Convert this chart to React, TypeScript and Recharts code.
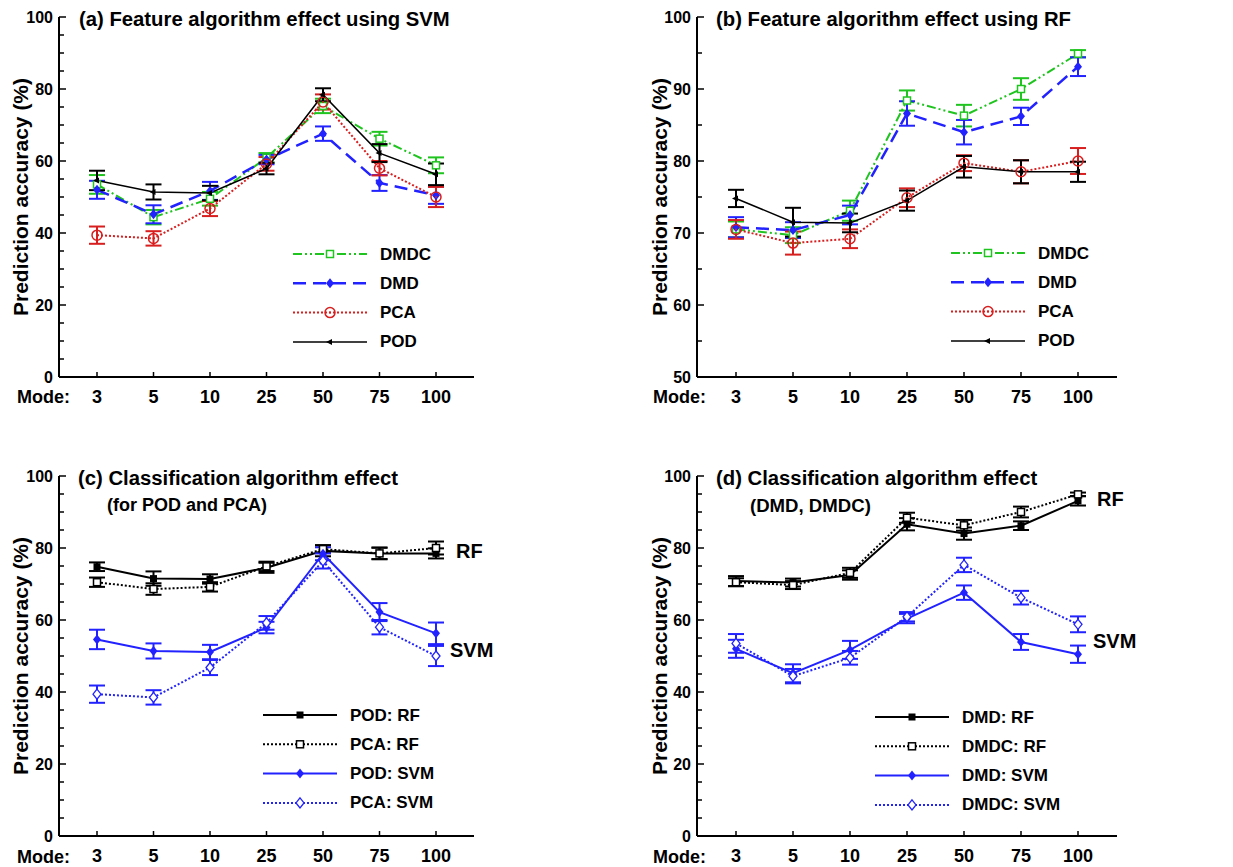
import React from 'react';
import { LineChart, Line, XAxis, YAxis, ErrorBar, Legend } from 'recharts';

const FONT = "'Liberation Sans', Arial, Helvetica, sans-serif";

const modes = ['3', '5', '10', '25', '50', '75', '100'];

// SVM accuracies (%)
const podSvm = [54.6, 51.4, 51.1, 57.9, 78.4, 62.2, 56.3];
const podSvmErr = [2.7, 2.1, 2.0, 1.6, 1.8, 2.5, 3.0];
const pcaSvm = [39.4, 38.5, 46.8, 59.2, 76.4, 58.0, 50.0];
const pcaSvmErr = [2.4, 2.0, 2.1, 1.9, 2.1, 2.0, 2.8];
const dmdSvm = [52.0, 45.2, 51.7, 60.4, 67.6, 53.9, 50.5];
const dmdSvmErr = [2.5, 2.5, 2.5, 1.3, 2.0, 2.2, 2.4];
const dmdcSvm = [53.5, 44.4, 49.5, 60.9, 75.3, 66.2, 58.8];
const dmdcSvmErr = [2.6, 2.0, 1.9, 1.3, 2.0, 1.9, 2.2];

// RF accuracies (%)
const podRf = [74.8, 71.5, 71.4, 74.5, 79.2, 78.5, 78.5];
const podRfErr = [1.2, 2.0, 1.3, 1.4, 1.5, 1.6, 1.4];
const pcaRf = [70.5, 68.6, 69.2, 74.9, 79.7, 78.5, 80.0];
const pcaRfErr = [1.3, 1.6, 1.3, 1.3, 1.1, 1.6, 1.8];
const dmdRf = [70.8, 70.4, 72.5, 86.6, 84.0, 86.2, 93.1];
const dmdRfErr = [1.4, 1.1, 1.3, 1.7, 1.7, 1.2, 1.3];
const dmdcRf = [70.5, 69.7, 73.1, 88.4, 86.3, 90.0, 94.9];
const dmdcRfErr = [1.1, 1.1, 1.4, 1.4, 1.5, 1.5, 0.5];

// axis ticks
const ticksFull = [0, 5, 10, 15, 20, 25, 30, 35, 40, 45, 50, 55, 60, 65, 70, 75, 80, 85, 90, 95, 100];
const majorFull = [0, 20, 40, 60, 80, 100];
const ticksRf = [50, 55, 60, 65, 70, 75, 80, 85, 90, 95, 100];
const majorRf = [50, 60, 70, 80, 90, 100];

const GREEN = '#1fc41f';
const BLUE = '#2222ff';
const RED = '#d81e1e';
const BLACK = '#000000';

type Series = {
  key: string;
  name: string;
  values: number[];
  errors: number[];
  color: string;
  dash?: string;
  width: number;
  marker: string;
};

function Marker({ kind, x, y, color }: { kind: string; x: number; y: number; color: string }) {
  switch (kind) {
    case 'sqOpen':
      return <rect x={x - 3.5} y={y - 3.5} width={7} height={7} fill="#fff" stroke={color} strokeWidth={1.5} />;
    case 'sq':
      return <rect x={x - 3.5} y={y - 3.5} width={7} height={7} fill={color} />;
    case 'diamond':
      return <polygon points={`${x},${y - 5} ${x + 4},${y} ${x},${y + 5} ${x - 4},${y}`} fill={color} />;
    case 'diamondOpen':
      return (
        <polygon
          points={`${x},${y - 5} ${x + 4},${y} ${x},${y + 5} ${x - 4},${y}`}
          fill="#fff"
          stroke={color}
          strokeWidth={1.3}
        />
      );
    case 'circleOpen':
      return (
        <g>
          <circle cx={x} cy={y} r={5} fill="none" stroke={color} strokeWidth={1.5} />
          <circle cx={x} cy={y} r={1} fill={color} />
        </g>
      );
    case 'triLeft':
      return <polygon points={`${x - 4},${y} ${x + 2},${y - 3} ${x + 2},${y + 3}`} fill={color} />;
    default:
      return null;
  }
}

const svmFeatureSeries: Series[] = [
  { key: 'dmdc', name: 'DMDC', values: dmdcSvm, errors: dmdcSvmErr, color: GREEN, dash: '9 3 2 3 2 3', width: 2, marker: 'sqOpen' },
  { key: 'dmd', name: 'DMD', values: dmdSvm, errors: dmdSvmErr, color: BLUE, dash: '13 7', width: 2.5, marker: 'diamond' },
  { key: 'pca', name: 'PCA', values: pcaSvm, errors: pcaSvmErr, color: RED, dash: '2 2', width: 2, marker: 'circleOpen' },
  { key: 'pod', name: 'POD', values: podSvm, errors: podSvmErr, color: BLACK, width: 1.5, marker: 'triLeft' },
];

const rfFeatureSeries: Series[] = [
  { key: 'dmdc', name: 'DMDC', values: dmdcRf, errors: dmdcRfErr, color: GREEN, dash: '9 3 2 3 2 3', width: 2, marker: 'sqOpen' },
  { key: 'dmd', name: 'DMD', values: dmdRf, errors: dmdRfErr, color: BLUE, dash: '13 7', width: 2.5, marker: 'diamond' },
  { key: 'pca', name: 'PCA', values: pcaRf, errors: pcaRfErr, color: RED, dash: '2 2', width: 2, marker: 'circleOpen' },
  { key: 'pod', name: 'POD', values: podRf, errors: podRfErr, color: BLACK, width: 1.5, marker: 'triLeft' },
];

const podPcaSeries: Series[] = [
  { key: 'podRf', name: 'POD: RF', values: podRf, errors: podRfErr, color: BLACK, width: 2, marker: 'sq' },
  { key: 'pcaRf', name: 'PCA: RF', values: pcaRf, errors: pcaRfErr, color: BLACK, dash: '2 2', width: 2, marker: 'sqOpen' },
  { key: 'podSvm', name: 'POD: SVM', values: podSvm, errors: podSvmErr, color: BLUE, width: 2, marker: 'diamond' },
  { key: 'pcaSvm', name: 'PCA: SVM', values: pcaSvm, errors: pcaSvmErr, color: BLUE, dash: '2 2', width: 2, marker: 'diamondOpen' },
];

const dmdSeries: Series[] = [
  { key: 'dmdRf', name: 'DMD: RF', values: dmdRf, errors: dmdRfErr, color: BLACK, width: 2, marker: 'sq' },
  { key: 'dmdcRf', name: 'DMDC: RF', values: dmdcRf, errors: dmdcRfErr, color: BLACK, dash: '2 2', width: 2, marker: 'sqOpen' },
  { key: 'dmdSvm', name: 'DMD: SVM', values: dmdSvm, errors: dmdSvmErr, color: BLUE, width: 2, marker: 'diamond' },
  { key: 'dmdcSvm', name: 'DMDC: SVM', values: dmdcSvm, errors: dmdcSvmErr, color: BLUE, dash: '2 2', width: 2, marker: 'diamondOpen' },
];

function buildData(series: Series[]) {
  return modes.map((m, i) => {
    const row: Record<string, any> = { mode: m };
    series.forEach((s) => {
      row[s.key] = s.values[i];
      row[s.key + 'Err'] = s.errors[i];
    });
    return row;
  });
}

function makeYTick(major: number[]) {
  return (props: any) => {
    const { x, y, payload } = props;
    const v = payload.value;
    const isMajor = major.includes(v);
    return (
      <g>
        <line x1={x} x2={x + (isMajor ? 7 : 5)} y1={y} y2={y} stroke="#000" strokeWidth={1.5} />
        {isMajor && (
          <text
            x={x - 6}
            y={y}
            textAnchor="end"
            dominantBaseline="central"
            fontSize={16}
            fontWeight="bold"
            fontFamily={FONT}
            fill="#000"
          >
            {v}
          </text>
        )}
      </g>
    );
  };
}

const XTick = (props: any) => {
  const { x, y, payload } = props;
  return (
    <g>
      <line x1={x} x2={x} y1={y} y2={y - 5} stroke="#000" strokeWidth={1.5} />
      <text
        x={x}
        y={y + 20}
        textAnchor="middle"
        dominantBaseline="central"
        fontSize={18}
        fontWeight="bold"
        fontFamily={FONT}
        fill="#000"
      >
        {payload.value}
      </text>
    </g>
  );
};

type PanelProps = {
  left: number;
  top: number;
  width: number;
  height: number;
  yAxisWidth: number;
  plotWidth: number;
  pad: number;
  domain: [number, number];
  ticks: number[];
  major: number[];
  series: Series[];
  legendLeft: number;
  legendTop: number;
};

function Panel(p: PanelProps) {
  const data = buildData(p.series);
  const marginTop = 17;
  const xAxisHeight = 30;
  const bottom = p.height - marginTop - 360 - xAxisHeight;
  const right = p.width - p.yAxisWidth - p.plotWidth;
  const legendContent = () => (
    <svg width={220} height={120} style={{ display: 'block', overflow: 'visible' }}>
      {p.series.map((s, i) => {
        const y = 12 + i * 29.3;
        return (
          <g key={s.key}>
            <line x1={0} x2={74} y1={y} y2={y} stroke={s.color} strokeWidth={s.width} strokeDasharray={s.dash} />
            <Marker kind={s.marker} x={37} y={y} color={s.color} />
            <text
              x={87}
              y={y}
              dominantBaseline="central"
              fontSize={17}
              fontWeight="bold"
              fontFamily={FONT}
              fill="#000"
            >
              {s.name}
            </text>
          </g>
        );
      })}
    </svg>
  );
  return (
    <div style={{ position: 'absolute', left: p.left, top: p.top, width: p.width, height: p.height }}>
      <LineChart
        width={p.width}
        height={p.height}
        data={data}
        margin={{ top: marginTop, right, bottom, left: 0 }}
      >
        <XAxis
          dataKey="mode"
          type="category"
          padding={{ left: p.pad, right: p.pad }}
          axisLine={{ stroke: '#000', strokeWidth: 2 }}
          tickLine={false}
          tickSize={0}
          tickMargin={0}
          interval={0}
          height={xAxisHeight}
          tick={XTick}
        />
        <YAxis
          type="number"
          domain={p.domain}
          ticks={p.ticks}
          interval={0}
          width={p.yAxisWidth}
          axisLine={{ stroke: '#000', strokeWidth: 2 }}
          tickLine={false}
          tickSize={0}
          tickMargin={0}
          allowDataOverflow
          tick={makeYTick(p.major)}
        />
        <Legend
          layout="vertical"
          align="center"
          verticalAlign="middle"
          content={legendContent}
          wrapperStyle={{ left: p.legendLeft, top: p.legendTop, width: 220, height: 120 }}
        />
        {p.series.map((s) => (
          <Line
            key={s.key}
            type="linear"
            dataKey={s.key}
            name={s.name}
            stroke={s.color}
            strokeWidth={s.width}
            strokeDasharray={s.dash}
            isAnimationActive={false}
            activeDot={false}
            dot={(d: any) => <Marker key={`${s.key}-${d.index}`} kind={s.marker} x={d.cx} y={d.cy} color={s.color} />}
          >
            <ErrorBar dataKey={s.key + 'Err'} direction="y" width={8} strokeWidth={2} stroke={s.color} />
          </Line>
        ))}
      </LineChart>
    </div>
  );
}

const textStyle = { fontFamily: FONT, fontWeight: 'bold' as const, fill: '#000' };

function Overlay() {
  return (
    <svg
      width={1233}
      height={867}
      style={{ position: 'absolute', left: 0, top: 0, pointerEvents: 'none' }}
    >
      {/* titles */}
      <text x={79} y={26} fontSize={20.3} {...textStyle}>(a) Feature algorithm effect using SVM</text>
      <text x={716} y={26} fontSize={20.3} {...textStyle}>(b) Feature algorithm effect using RF</text>
      <text x={78} y={485} fontSize={20.3} {...textStyle}>(c) Classification algorithm effect</text>
      <text x={107} y={511} fontSize={18} {...textStyle}>(for POD and PCA)</text>
      <text x={716} y={485} fontSize={20.3} {...textStyle}>(d) Classification algorithm effect</text>
      <text x={750} y={512} fontSize={18.6} {...textStyle}>(DMD, DMDC)</text>

      {/* y axis titles */}
      {[
        [20, 197],
        [659, 197],
        [20, 656],
        [659, 656],
      ].map(([x, y], i) => (
        <text
          key={i}
          x={x}
          y={y}
          fontSize={21}
          textAnchor="middle"
          dominantBaseline="central"
          transform={`rotate(-90 ${x} ${y})`}
          {...textStyle}
        >
          Prediction accuracy (%)
        </text>
      ))}

      {/* Mode: labels */}
      {[
        [17, 397],
        [653, 397],
        [17, 857],
        [653, 857],
      ].map(([x, y], i) => (
        <text key={i} x={x} y={y} fontSize={18} dominantBaseline="central" {...textStyle}>
          Mode:
        </text>
      ))}

      {/* group annotations */}
      <text x={456} y={551} fontSize={20} dominantBaseline="central" {...textStyle}>RF</text>
      <text x={450} y={650} fontSize={20} dominantBaseline="central" {...textStyle}>SVM</text>
      <text x={1097} y={499} fontSize={20} dominantBaseline="central" {...textStyle}>RF</text>
      <text x={1093} y={641} fontSize={20} dominantBaseline="central" {...textStyle}>SVM</text>
    </svg>
  );
}

export default function App() {
  return (
    <div style={{ position: 'absolute', left: 0, top: 0, width: 1233, height: 867, background: '#fff', overflow: 'hidden' }}>
      <Panel
        left={0}
        top={0}
        width={616}
        height={433}
        yAxisWidth={59}
        plotWidth={415}
        pad={38}
        domain={[0, 100]}
        ticks={ticksFull}
        major={majorFull}
        series={svmFeatureSeries}
        legendLeft={293}
        legendTop={242}
      />
      <Panel
        left={616}
        top={0}
        width={617}
        height={433}
        yAxisWidth={81}
        plotWidth={420}
        pad={39}
        domain={[50, 100]}
        ticks={ticksRf}
        major={majorRf}
        series={rfFeatureSeries}
        legendLeft={335}
        legendTop={241}
      />
      <Panel
        left={0}
        top={459}
        width={616}
        height={408}
        yAxisWidth={59}
        plotWidth={415}
        pad={38}
        domain={[0, 100]}
        ticks={ticksFull}
        major={majorFull}
        series={podPcaSeries}
        legendLeft={263}
        legendTop={244}
      />
      <Panel
        left={616}
        top={459}
        width={617}
        height={408}
        yAxisWidth={81}
        plotWidth={420}
        pad={39}
        domain={[0, 100]}
        ticks={ticksFull}
        major={majorFull}
        series={dmdSeries}
        legendLeft={259}
        legendTop={246}
      />
      <Overlay />
    </div>
  );
}
